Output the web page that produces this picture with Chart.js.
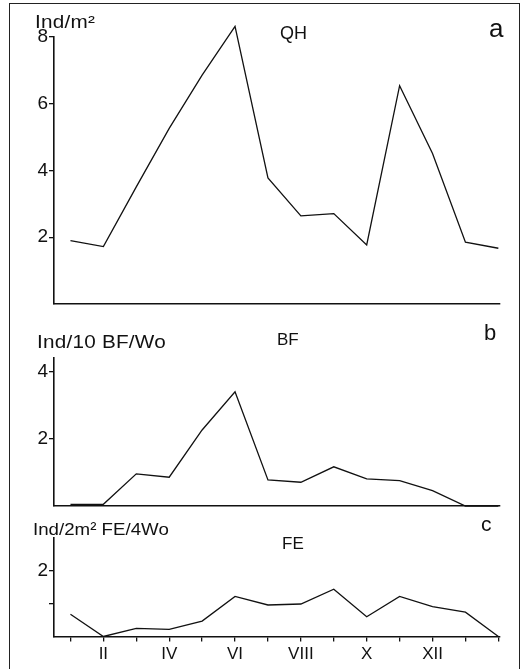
<!DOCTYPE html>
<html>
<head>
<meta charset="utf-8">
<script src="https://cdn.jsdelivr.net/npm/chart.js@4"></script>
<style>
  body{margin:0;background:#fff;}
  #wrap{position:relative;width:530px;height:669px;overflow:hidden;background:#fff;}
  canvas{position:absolute;left:0;}
  #frame{position:absolute;left:9px;top:3px;width:509px;height:700px;border:1.5px solid #222;}
  .lbl{position:absolute;font-family:"Liberation Sans",Arial,sans-serif;color:#111;line-height:1;white-space:nowrap;transform-origin:0 0;}
  .wide{transform:scaleX(1.15);letter-spacing:0.2px;}
</style>
</head>
<body>
<div id="wrap">
  <div id="frame"></div>
  <canvas id="chartA" width="530" height="320" style="top:0px"></canvas>
  <canvas id="chartB" width="530" height="201" style="top:320px"></canvas>
  <canvas id="chartC" width="530" height="159" style="top:510px"></canvas>

  <div class="lbl wide" style="left:35px;top:13px;font-size:18px">Ind/m²</div>
  <div class="lbl" style="left:280px;top:24px;font-size:18px">QH</div>
  <div class="lbl" style="left:489px;top:15px;font-size:26px">a</div>

  <div class="lbl wide" style="left:37px;top:333px;font-size:18px">Ind/10 BF/Wo</div>
  <div class="lbl" style="left:277px;top:331px;font-size:17px">BF</div>
  <div class="lbl" style="left:484px;top:322px;font-size:22px">b</div>

  <div class="lbl" style="left:33px;top:521px;font-size:17px;transform:scaleX(1.1)">Ind/2m² FE/4Wo</div>
  <div class="lbl" style="left:282px;top:535px;font-size:17px">FE</div>
  <div class="lbl" style="left:481px;top:513px;font-size:21px">c</div>
</div>

<script>
// Monate (Jan .. Dez, Jan, Feb)
const months = [0,1,2,3,4,5,6,7,8,9,10,11,12,13];
const monthLabels = ["","II","","IV","","VI","","VIII","","X","","XII","",""];

// QH - Ind/m2
const valuesQH = [1.9,1.72,3.51,5.26,6.86,8.32,3.78,2.64,2.71,1.77,6.54,4.51,1.85,1.67];
// BF - Ind/10 BF/Wo
const valuesBF = [0.05,0.05,0.96,0.86,2.27,3.41,0.78,0.71,1.17,0.81,0.76,0.46,0,0];
// FE - Ind/2m2 FE/4Wo
const valuesFE = [0.68,0,0.25,0.22,0.47,1.22,0.96,0.99,1.44,0.6,1.22,0.91,0.74,0];

const yTicksA = [2,4,6,8];
const yTicksB = [2,4];
const yTicksC = [1,2];
const yLabelsC = {1:"",2:"2"};

const fontFamily = "'Liberation Sans', Arial, sans-serif";

function makeChart(id, values, opt){

    const xScale = {
        type:"linear",
        min:-0.5,
        max:13.05,
        grid:{
            display:true,
            drawOnChartArea:false,
            drawTicks:opt.xTicks,
            tickLength:5,
            color:"#111",
            lineWidth:1.3
        },
        border:{display:true,color:"#111",width:1.6},
        ticks:{
            display:opt.xTicks,
            color:"#111",
            font:{family:fontFamily,size:17},
            padding:3,
            maxRotation:0,
            autoSkip:false,
            callback:v=>monthLabels[v]
        },
        afterBuildTicks:s=>{ s.ticks = months.map(m=>({value:m})); },
        afterFit:s=>{ s.height = opt.xHeight; }
    };

    const yScale = {
        type:"linear",
        min:0,
        max:opt.yMax,
        grid:{
            display:true,
            drawOnChartArea:false,
            drawTicks:true,
            tickLength:5,
            color:"#111",
            lineWidth:1.3
        },
        border:{display:true,color:"#111",width:1.6},
        ticks:{
            color:"#111",
            font:{family:fontFamily,size:19},
            padding:1,
            callback:opt.yLabel || (v=>String(v))
        },
        afterBuildTicks:s=>{ s.ticks = opt.yTicks.map(t=>({value:t})); },
        afterFit:s=>{ s.width = 54; }
    };

    return new Chart(document.getElementById(id),{
        type:"line",
        data:{
            datasets:[{
                data:values.map((v,i)=>({x:months[i],y:v})),
                borderColor:"#111",
                borderWidth:1.3,
                pointRadius:0,
                tension:0,
                fill:false,
                clip:false
            }]
        },
        options:{
            responsive:false,
            animation:false,
            devicePixelRatio:1,
            layout:{padding:{left:0,right:30,top:opt.top,bottom:opt.bottom}},
            plugins:{legend:{display:false},tooltip:{enabled:false}},
            scales:{x:xScale,y:yScale}
        }
    });
}

makeChart("chartA", valuesQH, {yMax:8, yTicks:yTicksA, top:37, bottom:16, xHeight:0, xTicks:false});
makeChart("chartB", valuesBF, {yMax:4.42, yTicks:yTicksB, top:38, bottom:0, xHeight:15, xTicks:false});
makeChart("chartC", valuesFE, {yMax:3, yTicks:yTicksC, top:28, bottom:0, xHeight:32.5, xTicks:true,
    yLabel:v=>yLabelsC[v]});
</script>
</body>
</html>
